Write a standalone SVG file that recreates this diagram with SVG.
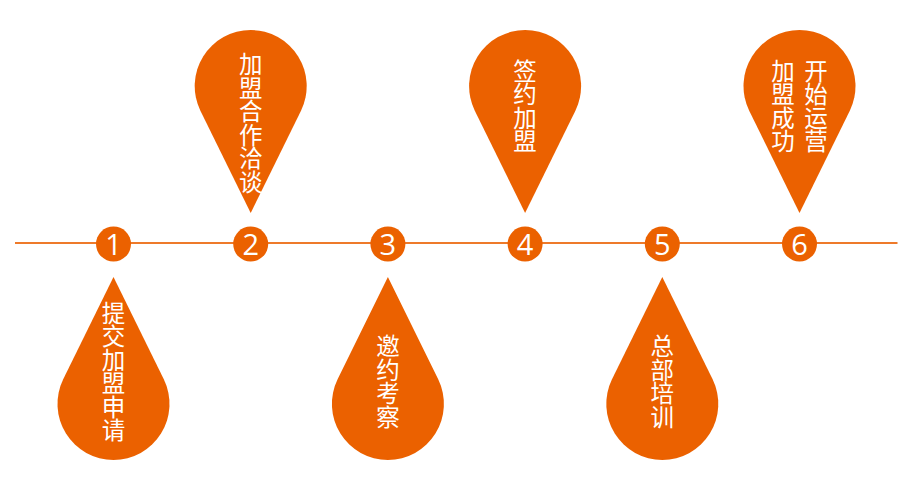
<svg xmlns="http://www.w3.org/2000/svg" width="919" height="491" viewBox="0 0 919 491">
<style>
.drop{fill:#EB6100}
.dot{fill:#EB6100}
.num{fill:#fff;font-family:"Open Sans","Liberation Sans",sans-serif;font-size:29px;text-anchor:middle}
.lbl{fill:#fff;font-family:"Noto Sans CJK SC",sans-serif;font-size:23.5px;writing-mode:vertical-rl;text-anchor:middle}
.line{stroke:#EE7A2A;stroke-width:2;fill:none}
</style>
<g id="connectors">
<line class="line" x1="15" y1="243" x2="897.5" y2="243"/>
</g>
<g id="step1">
<circle class="dot" cx="113.5" cy="244" r="17.5"/>
<text class="num" x="113.5" y="254.5">1</text>
<path class="drop" d="M113.5,277 L163.8,379.3 A56 56 0 1 1 63.2,379.3 Z"/>
<text class="lbl" x="113.5" y="371.5">提交加盟申请</text>
</g>
<g id="step2">
<circle class="dot" cx="250.7" cy="244" r="17.5"/>
<text class="num" x="250.7" y="254.5">2</text>
<path class="drop" d="M250.7,213 L200.4,110.7 A56 56 0 1 1 301,110.7 Z"/>
<text class="lbl" x="250.7" y="123">加盟合作洽谈</text>
</g>
<g id="step3">
<circle class="dot" cx="387.9" cy="244" r="17.5"/>
<text class="num" x="387.9" y="254.5">3</text>
<path class="drop" d="M387.9,277 L438.2,379.3 A56 56 0 1 1 337.6,379.3 Z"/>
<text class="lbl" x="387.9" y="381.5">邀约考察</text>
</g>
<g id="step4">
<circle class="dot" cx="525.1" cy="244" r="17.5"/>
<text class="num" x="525.1" y="254.5">4</text>
<path class="drop" d="M525.1,213 L474.8,110.7 A56 56 0 1 1 575.4,110.7 Z"/>
<text class="lbl" x="525.1" y="106">签约加盟</text>
</g>
<g id="step5">
<circle class="dot" cx="662.3" cy="244" r="17.5"/>
<text class="num" x="662.3" y="254.5">5</text>
<path class="drop" d="M662.3,277 L712.6,379.3 A56 56 0 1 1 612,379.3 Z"/>
<text class="lbl" x="662.3" y="381.5">总部培训</text>
</g>
<g id="step6">
<circle class="dot" cx="799.5" cy="244" r="17.5"/>
<text class="num" x="799.5" y="254.5">6</text>
<path class="drop" d="M799.5,213 L749.2,110.7 A56 56 0 1 1 849.8,110.7 Z"/>
<text class="lbl"><tspan x="816" y="106">开始运营</tspan><tspan x="783" y="106">加盟成功</tspan></text>
</g>
</svg>
